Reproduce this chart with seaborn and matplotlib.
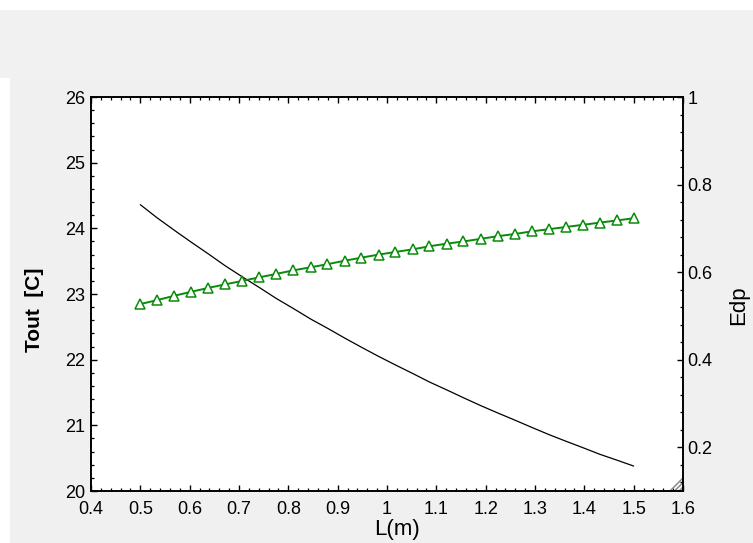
import matplotlib.pyplot as plt
import seaborn as sns
from matplotlib.patches import Rectangle
from matplotlib.ticker import MultipleLocator, FuncFormatter

# Length of the exchanger (m), 30 evaluation points
L = [0.500, 0.534, 0.569, 0.603, 0.638, 0.672, 0.707, 0.741, 0.776, 0.810,
     0.845, 0.879, 0.914, 0.948, 0.983, 1.017, 1.052, 1.086, 1.121, 1.155,
     1.190, 1.224, 1.259, 1.293, 1.328, 1.362, 1.397, 1.431, 1.466, 1.500]

# Outlet temperature [C] (left axis)
tout = [24.36, 24.16, 23.97, 23.79, 23.61, 23.43, 23.26, 23.10, 22.93, 22.78,
        22.62, 22.48, 22.33, 22.19, 22.05, 21.92, 21.79, 21.66, 21.54, 21.42,
        21.30, 21.19, 21.08, 20.97, 20.86, 20.76, 20.66, 20.56, 20.47, 20.38]

# Effectiveness Edp (right axis)
edp = [0.527, 0.536, 0.546, 0.555, 0.564, 0.572, 0.580, 0.588, 0.596, 0.604,
       0.611, 0.618, 0.626, 0.633, 0.640, 0.646, 0.652, 0.659, 0.665, 0.670,
       0.676, 0.682, 0.687, 0.693, 0.698, 0.703, 0.708, 0.713, 0.718, 0.723]

sns.set_theme(style="white")
plt.rcParams['font.family'] = ['Liberation Sans', 'DejaVu Sans']
plt.rcParams.update({'text.color': 'black', 'axes.labelcolor': 'black',
                     'xtick.color': 'black', 'ytick.color': 'black'})

W, H = 753, 543
fig = plt.figure(figsize=(W / 100, H / 100), dpi=100, facecolor='white')

# grey window panel + faint band on top
fig.patches.append(Rectangle((0, (H - 78) / H), 1, 68 / H, transform=fig.transFigure,
                             facecolor='#f1f1f1', edgecolor='none', zorder=-10))
fig.patches.append(Rectangle((10 / W, 0), 1, (H - 78) / H, transform=fig.transFigure,
                             facecolor='#f0f0f0', edgecolor='none', zorder=-10))

ax = fig.add_axes([91 / W, 1 - 491 / H, 592 / W, 394 / H])
ax.set_facecolor('white')
ax2 = ax.twinx()

sns.lineplot(x=L, y=tout, ax=ax, color='black', linewidth=0.9)
sns.lineplot(x=L, y=edp, ax=ax2, color='#0a8a0a', linewidth=1.4, marker='^',
             markersize=6.5, markerfacecolor='white', markeredgecolor='#0a8a0a',
             markeredgewidth=1.1)

ax.set_xlim(0.4, 1.6)
ax.set_ylim(20, 26)
ax2.set_ylim(0.1, 1.0)

fmt = FuncFormatter(lambda v, p: f"{v:g}")
ax.xaxis.set_major_locator(MultipleLocator(0.1))
ax.xaxis.set_minor_locator(MultipleLocator(0.02))
ax.xaxis.set_major_formatter(fmt)
ax.yaxis.set_major_locator(MultipleLocator(1))
ax.yaxis.set_minor_locator(MultipleLocator(0.2))
ax2.yaxis.set_major_locator(MultipleLocator(0.2))
ax2.yaxis.set_minor_locator(MultipleLocator(0.04))
ax2.yaxis.set_major_formatter(fmt)

ax.tick_params(axis='x', which='both', direction='in', top=True, bottom=True,
               labelsize=13, pad=7, colors='black')
ax.tick_params(axis='y', which='both', direction='in', left=True, right=False,
               labelsize=13, pad=4, colors='black')
ax2.tick_params(axis='y', which='both', direction='in', right=True, left=False,
                labelsize=13, pad=3, colors='black')
for a in (ax, ax2):
    a.tick_params(which='major', length=4, width=1.0)
    a.tick_params(which='minor', length=2.5, width=0.9)
    for s in a.spines.values():
        s.set_color('black')
        s.set_linewidth(1.2)

ax.set_xlabel('L(m)', fontsize=16, va='center', color='black')
ax.xaxis.set_label_coords((397 - 91) / 592, (491 - 530) / 394)
ax.set_ylabel('Tout  [C]', fontsize=15, fontweight='bold', va='center', color='black')
ax.yaxis.set_label_coords((35 - 91) / 592, (491 - 310) / 394)
ax2.set_ylabel('Edp', fontsize=16, va='center', rotation=90, color='black')
ax2.yaxis.set_label_coords((739 - 91) / 592, (491 - 305) / 394)

# little resize grip in the corner
for k in (0.0, 0.35, 0.7):
    ax.plot([0.978 + 0.022 * k, 1.0], [0.0, 0.033 * (1 - k)], transform=ax.transAxes,
            color='#8a8a8a', linewidth=1.1, clip_on=False)

fig.savefig('out.png', dpi=100, facecolor=fig.get_facecolor())
